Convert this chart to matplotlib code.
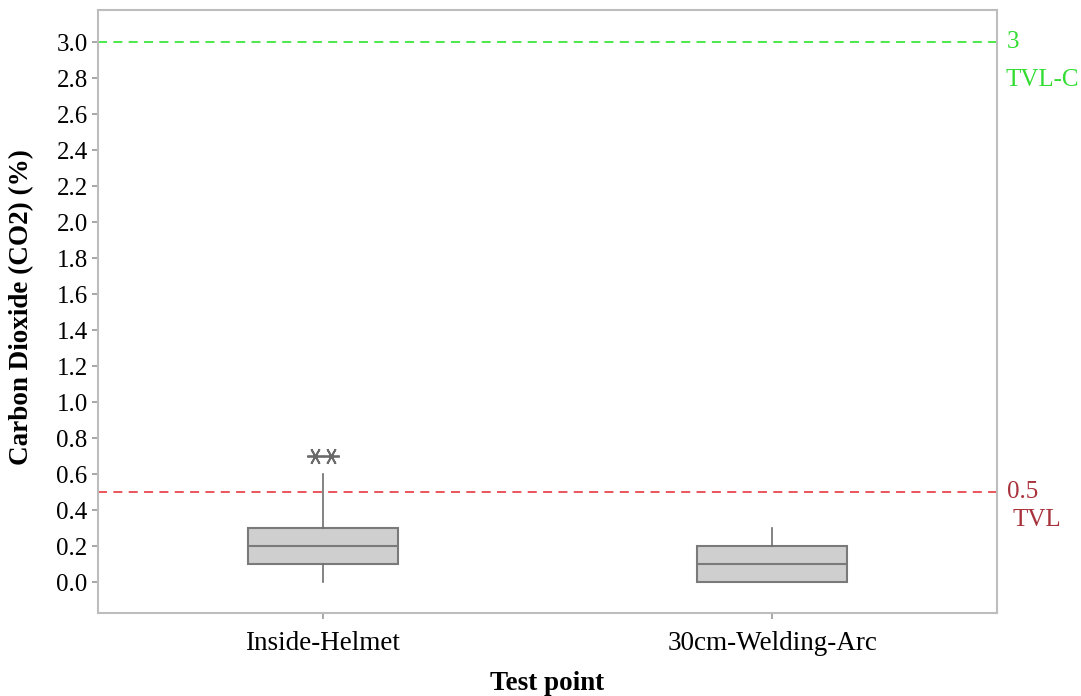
import matplotlib.pyplot as plt

# =========================
# DADOS
# =========================

categorias = ["Inside-Helmet", "30cm-Welding-Arc"]
minimo = [0.0, 0.0]
q1 = [0.1, 0.0]
mediana = [0.2, 0.1]
q3 = [0.3, 0.2]
maximo = [0.6, 0.3]
outliers = [[0.7, 0.7], []]

limite_tvl = 0.5
limite_tvlc = 3.0
yticks = [0.0, 0.2, 0.4, 0.6, 0.8, 1.0, 1.2, 1.4, 1.6, 1.8, 2.0, 2.2, 2.4, 2.6, 2.8, 3.0]

# =========================
# GRAFICO
# =========================

plt.rcParams["font.family"] = ["Liberation Serif", "DejaVu Serif"]

fig = plt.figure(figsize=(10.81, 6.96), dpi=100)
ax = fig.add_axes([0.0907, 0.1193, 0.8316, 0.8663])

stats = []
for i in range(len(categorias)):
    stats.append({
        "label": categorias[i],
        "whislo": minimo[i],
        "q1": q1[i],
        "med": mediana[i],
        "q3": q3[i],
        "whishi": maximo[i],
        "fliers": [],
    })

pos = list(range(1, len(categorias) + 1))

ax.bxp(stats, positions=pos, widths=0.333, patch_artist=True, showcaps=False,
       showfliers=False,
       boxprops=dict(facecolor="#cfcfcf", edgecolor="#7a7a7a", linewidth=1.5),
       medianprops=dict(color="#7a7a7a", linewidth=1.5),
       whiskerprops=dict(color="#6e6e6e", linewidth=1.2))

# outliers (asterisco estilo Minitab, deslocados lado a lado)
for i, vals in enumerate(outliers):
    n = len(vals)
    for j, v in enumerate(vals):
        dx = (j - (n - 1) / 2) * 0.036
        ax.plot(pos[i] + dx, v, linestyle="none", marker=(6, 2, 90),
                markersize=12, markeredgewidth=1.3, color="#6a6a6a")

# linhas de referencia
ax.axhline(limite_tvlc, color="#3de63d", linestyle=(0, (5, 3.5)), linewidth=1.3)
ax.axhline(limite_tvl, color="#e8474f", linestyle=(0, (5, 3.5)), linewidth=1.3)

trans = ax.get_yaxis_transform()
ax.text(1.011, limite_tvlc, "3", color="#33dd33", fontsize=18, va="center",
        ha="left", transform=trans, clip_on=False)
ax.text(1.0089, 2.79, "TVL-C", color="#33dd33", fontsize=18,
        va="center", ha="left", transform=trans, clip_on=False)
ax.text(1.011, limite_tvl, "0.5", color="#a8323c", fontsize=18, va="center",
        ha="left", transform=trans, clip_on=False)
ax.text(1.0167, 0.344, "TVL", color="#a8323c", fontsize=18,
        va="center", ha="left", transform=trans, clip_on=False)

ax.set_xlim(0.5, 2.5)
ax.set_ylim(-0.172, 3.178)
ax.set_yticks(yticks)
ax.set_yticklabels([f"{t:.1f}" for t in yticks])
ax.set_xticks(pos)
ax.set_xticklabels(categorias)

for s in ax.spines.values():
    s.set_color("#bdbdbd")
    s.set_linewidth(1.5)

ax.tick_params(axis="both", colors="#9a9a9a", labelcolor="black",
               length=4, width=1.2, direction="out")
ax.tick_params(axis="y", labelsize=18)
ax.tick_params(axis="x", labelsize=19.5, pad=9)

ax.set_ylabel("Carbon Dioxide (CO2) (%)", fontsize=19.5, fontweight="bold")
ax.yaxis.set_label_coords(-0.0845, 0.507)
ax.yaxis.label.set_va("center")

ax.set_xlabel("Test point", fontsize=19.5, fontweight="bold")
ax.xaxis.set_label_coords(0.5, -0.1277)
ax.xaxis.label.set_va("baseline")

plt.savefig("out.png", dpi=100)
plt.close()
